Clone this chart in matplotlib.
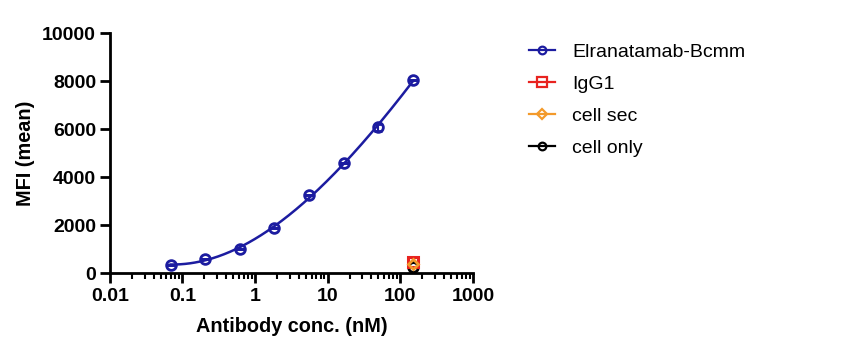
import numpy as np
import matplotlib
matplotlib.use("Agg")
import matplotlib.pyplot as plt
from matplotlib.ticker import LogLocator, NullFormatter, FixedLocator

plt.rcParams['font.family'] = ['Liberation Sans', 'DejaVu Sans']

conc = [0.0686, 0.206, 0.617, 1.85, 5.56, 16.7, 50.0, 150.0]
elra = [350, 600, 1000, 1900, 3270, 4580, 6080, 8050]
elra_err = [0, 0, 0, 0, 0, 0, 150, 0]
ctrl_conc = [150.0]
igg1 = [480]
cell_sec = [400]
cell_only = [250]

xticks = [0.01, 0.1, 1, 10, 100, 1000]
xticklabels = ['0.01', '0.1', '1', '10', '100', '1000']
yticks = [0, 2000, 4000, 6000, 8000, 10000]

blue = '#1c1ca0'
red = '#e8231f'
orange = '#f39a2b'

fig = plt.figure(figsize=(8.52, 3.52), dpi=100)
ax = fig.add_axes([0.129, 0.224, 0.426, 0.682])

# smooth fit in log-x space
lx = np.log10(conc)
coef = np.polyfit(lx, elra, 3)
xs = np.linspace(lx[0], lx[-1], 200)
ax.plot(10**xs, np.polyval(coef, xs), color=blue, lw=1.8, zorder=3)

ax.errorbar(conc, elra, yerr=elra_err, fmt='o', ms=7, mfc='none', mec=blue, mew=2,
            ecolor=blue, elinewidth=1.5, capsize=3, zorder=4)
ax.plot(ctrl_conc, igg1, 's', ms=7.5, mfc='none', mec=red, mew=2.2, zorder=5)
ax.plot(ctrl_conc, cell_sec, 'D', ms=5, mfc='none', mec=orange, mew=2, zorder=6)
ax.plot(ctrl_conc, cell_only, 'o', ms=7, mfc='none', mec='black', mew=2, zorder=4)

# legend handles
h1 = ax.plot([], [], '-o', color=blue, ms=5.5, mfc='none', mew=1.6, lw=1.6, label='Elranatamab-Bcmm')[0]
h2 = ax.plot([], [], '-s', color=red, ms=6.5, mfc='none', mew=1.6, lw=1.6, label='IgG1')[0]
h3 = ax.plot([], [], '-D', color=orange, ms=5.5, mfc='none', mew=1.6, lw=1.6, label='cell sec')[0]
h4 = ax.plot([], [], '-o', color='black', ms=5.5, mfc='none', mew=1.6, lw=1.6, label='cell only')[0]
fig.legend(handles=[h1, h2, h3, h4], loc='upper left', bbox_to_anchor=(0.612, 0.90),
           frameon=False, fontsize=14, handlelength=1.35, handletextpad=0.85,
           labelspacing=0.74, borderaxespad=0)

ax.set_xscale('log')
ax.set_xlim(0.01, 1000)
ax.set_ylim(0, 10000)
ax.xaxis.set_major_locator(FixedLocator(xticks))
ax.set_xticklabels(xticklabels)
ax.xaxis.set_minor_locator(LogLocator(base=10, subs=np.arange(2, 10), numticks=20))
ax.xaxis.set_minor_formatter(NullFormatter())
ax.set_yticks(yticks)
ax.set_yticklabels([str(v) for v in yticks])

for s in ['top', 'right']:
    ax.spines[s].set_visible(False)
for s in ['left', 'bottom']:
    ax.spines[s].set_linewidth(2)
ax.tick_params(which='major', direction='out', length=7, width=2, labelsize=14, pad=4)
ax.tick_params(axis='y', which='major', pad=3)
ax.tick_params(which='minor', direction='out', length=4, width=1.5)
for lab in ax.get_xticklabels() + ax.get_yticklabels():
    lab.set_fontweight('bold')

ax.set_xlabel('Antibody conc. (nM)', fontsize=14.3, fontweight='bold', labelpad=8)
ax.set_ylabel('MFI (mean)', fontsize=14.3, fontweight='bold', labelpad=5)

fig.savefig('out.png', dpi=100)
